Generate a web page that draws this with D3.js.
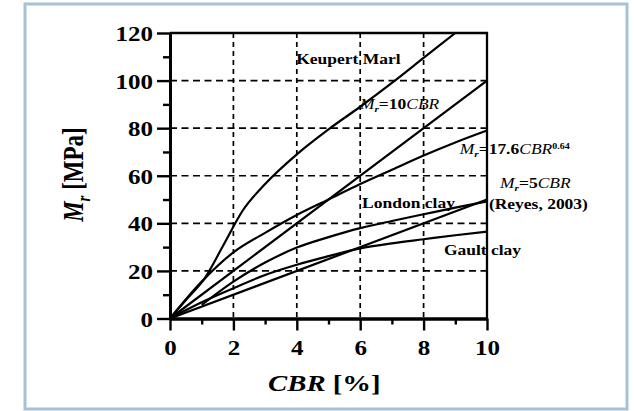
<!DOCTYPE html>
<html>
<head>
<meta charset="utf-8">
<script src="https://cdn.jsdelivr.net/npm/d3@7"></script>
<style>
  body { margin: 0; background: #fff; }
  svg { display: block; }
  text { font-family: "Liberation Serif", "Times New Roman", serif; fill: #000; }
</style>
</head>
<body>
<div id="chart"></div>
<script>
// values (CBR in %, Mr in MPa)
var keupertCbr = [0, 0.55, 1.1, 1.7, 2.3, 3, 4, 5, 6, 7, 8, 9];
var keupertMr = [0, 8.5, 17, 31.2, 45.5, 56.5, 69, 79.5, 89, 99, 109.5, 120];

var tenCbr = [0, 10];
var tenMr = [0, 100];

var powCbr = [0, 1, 2, 3, 4, 5, 6, 7, 8, 9, 10];
var powMr = [0, 15.5, 27.8, 36, 43.5, 50, 56.5, 62.5, 68.5, 74, 79];

var londonCbr = [1, 2, 3, 4, 5, 6, 7, 8, 9, 10];
var londonMr = [5.7, 15.5, 23.5, 29.8, 34.2, 38, 41, 43.8, 46.6, 49.2];

var fiveCbr = [0, 10];
var fiveMr = [0, 50];

var gaultCbr = [0, 1, 2, 3, 4, 5, 6, 7, 8, 9, 10];
var gaultMr = [0, 6.8, 12.7, 18.3, 22.6, 26.2, 29.5, 31.6, 33.3, 35, 36.5];

var xMajor = [0, 2, 4, 6, 8, 10];
var xMinor = [1, 3, 5, 7, 9];
var yMajor = [0, 20, 40, 60, 80, 100, 120];
var yMinor = [10, 30, 50, 70, 90, 110];

var width = 634,
    height = 411,
    sx = 1.25; // the source picture is stretched sideways

var margin = {left: 170, top: 33, right: 147, bottom: 92.5};
var w = width - margin.left - margin.right,
    h = height - margin.top - margin.bottom;

var svg = d3.select('#chart').append('svg')
  .attr('width', width)
  .attr('height', height);

svg.append('rect')
  .attr('x', 25).attr('y', 4)
  .attr('width', 602).attr('height', 405)
  .attr('fill', '#fff')
  .attr('stroke', '#a6c2d8')
  .attr('stroke-width', 3);

var g = svg.append('g')
  .attr('transform', 'translate(' + margin.left + ',' + margin.top + ')');

var x = d3.scaleLinear().domain([0, 10]).range([0, w]);
var y = d3.scaleLinear().domain([0, 120]).range([h, 0]);

// dashed grid
g.selectAll('.vgrid')
  .data(xMajor.slice(1, -1))
  .enter().append('line')
  .attr('x1', function(d) { return x(d); })
  .attr('x2', function(d) { return x(d); })
  .attr('y1', 0).attr('y2', h)
  .attr('stroke', '#000')
  .attr('stroke-width', 1.7)
  .attr('stroke-dasharray', '5,4');

g.selectAll('.hgrid')
  .data(yMajor.slice(1, -1))
  .enter().append('line')
  .attr('y1', function(d) { return y(d); })
  .attr('y2', function(d) { return y(d); })
  .attr('x1', 0).attr('x2', w)
  .attr('stroke', '#000')
  .attr('stroke-width', 1.7)
  .attr('stroke-dasharray', '7,4.5');

// frame top and right
g.append('path')
  .attr('d', 'M0,0H' + w + 'V' + h)
  .attr('fill', 'none')
  .attr('stroke', '#000')
  .attr('stroke-width', 2.3);

// curves
var series = [
  [keupertCbr, keupertMr],
  [tenCbr, tenMr],
  [powCbr, powMr],
  [londonCbr, londonMr],
  [fiveCbr, fiveMr],
  [gaultCbr, gaultMr]
];

var line = d3.line()
  .x(function(d) { return x(d[0]); })
  .y(function(d) { return y(d[1]); })
  .curve(d3.curveMonotoneX);

g.selectAll('.curve')
  .data(series)
  .enter().append('path')
  .attr('class', 'curve')
  .attr('d', function(s) { return line(d3.zip(s[0], s[1])); })
  .attr('fill', 'none')
  .attr('stroke', '#000')
  .attr('stroke-width', 2.2);

// axes
function styleAxis(sel) {
  sel.select('.domain').attr('stroke-width', 2.8);
  sel.selectAll('.tick line').attr('stroke-width', 2.4);
}

g.append('g')
  .attr('transform', 'translate(0,' + h + ')')
  .call(d3.axisBottom(x).tickValues(xMinor).tickSize(6).tickSizeOuter(0).tickFormat(''))
  .call(styleAxis);

g.append('g')
  .call(d3.axisLeft(y).tickValues(yMinor).tickSize(7).tickSizeOuter(0).tickFormat(''))
  .call(styleAxis);

var xAxis = g.append('g')
  .attr('transform', 'translate(0,' + h + ')')
  .call(d3.axisBottom(x).tickValues(xMajor).tickSize(12).tickSizeOuter(0))
  .call(styleAxis);

xAxis.selectAll('text')
  .attr('y', 36.5).attr('dy', 0)
  .attr('transform', 'scale(' + sx + ',1)')
  .style('font-size', '20px')
  .style('font-weight', 'bold')
  .style('font-family', '"Liberation Serif", serif');

var yAxis = g.append('g')
  .call(d3.axisLeft(y).tickValues(yMajor).tickSize(13).tickSizeOuter(0))
  .call(styleAxis);

yAxis.selectAll('text')
  .attr('x', -17 / sx).attr('dy', 7.5)
  .attr('transform', 'scale(' + sx + ',1)')
  .style('font-size', '20px')
  .style('font-weight', 'bold')
  .style('font-family', '"Liberation Serif", serif');

// stretched text helper
function label(px, py, anchor, size, rot) {
  var t = 'translate(' + px + ',' + py + ') scale(' + sx + ',1)' + (rot ? ' rotate(' + rot + ')' : '');
  return g.append('text')
    .attr('transform', t)
    .attr('text-anchor', anchor)
    .style('font-size', size + 'px')
    .style('font-weight', 'bold');
}

// axis titles
var xt = label(x(4.87), y(-30.6), 'middle', 23);
xt.append('tspan').style('font-style', 'italic').text('CBR');
xt.append('tspan').text(' [%]');

var yt = label(x(-2.73), y(60.5), 'middle', 23, -90);
yt.append('tspan').style('font-style', 'italic').text('M');
yt.append('tspan').style('font-style', 'italic').style('font-size', '15px').attr('dy', 5).text('r');
yt.append('tspan').attr('dy', -5).text(' [MPa]');

// curve annotations
label(x(3.98), y(107), 'start', 14).text('Keupert Marl');
label(x(6.06), y(46.3), 'start', 14).text('London clay');
label(x(8.64), y(26.7), 'start', 14).text('Gault clay');
label(x(10.06), y(46), 'start', 14).text('(Reyes, 2003)');

function formula(px, py, coef, sup) {
  var t = label(px, py, 'start', 14);
  t.append('tspan').style('font-style', 'italic').style('font-weight', 'normal').text('M');
  t.append('tspan').style('font-style', 'italic').style('font-size', '9px').attr('dy', 3).text('r');
  t.append('tspan').attr('dy', -3).text('=' + coef);
  t.append('tspan').style('font-style', 'italic').style('font-weight', 'normal').text('CBR');
  if (sup) {
    t.append('tspan').style('font-size', '8px').attr('dy', -5).text(sup);
  }
  return t;
}

formula(x(5.99), y(88.2), '10');
formula(x(9.14), y(69.1), '17.6', '0.64');
formula(x(10.41), y(54.8), '5');
</script>
</body>
</html>
